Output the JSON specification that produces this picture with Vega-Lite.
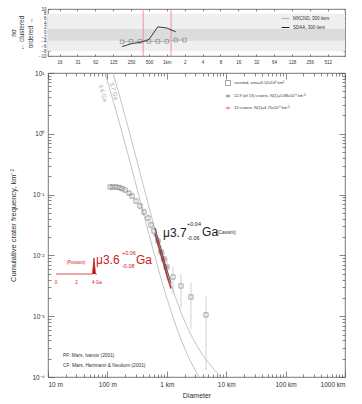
{
"$schema":"https://vega.github.io/schema/vega-lite/v6.json",
"background":"white",
"padding":{"left":9,"top":5,"right":4,"bottom":2},
"bounds":"flush",
"spacing":17,
"config":{
 "font":"Liberation Sans",
 "view":{"stroke":"#555","strokeWidth":0.8},
 "axis":{"labelFont":"Liberation Sans","titleFont":"Liberation Sans","labelFontSize":6.5,"titleFontSize":8,"titleFontWeight":"normal","domainColor":"#555","tickColor":"#555","labelColor":"#333","titleColor":"#333","tickWidth":0.7,"grid":false},
 "legend":{"labelFont":"Liberation Sans","labelColor":"#333"},
 "text":{"font":"Liberation Sans"}
},
"vconcat":[
{
 "width":297,"height":47,
 "resolve":{"axis":{"x":"independent","y":"independent"}},
 "layer":[
  {"data":{"values":[{"a":0.01,"b":1000,"lo":-8,"hi":8,"k":"outer"},{"a":0.01,"b":1000,"lo":-3.5,"hi":1.5,"k":"inner"}]},
   "mark":{"type":"rect"},
   "encoding":{
    "x":{"field":"a","type":"quantitative","scale":{"type":"log","domain":[0.01,1000]},
     "axis":{"orient":"bottom","values":[0.015625,0.03125,0.0625,0.125,0.25,0.5,1,2,4,8,16,32,64,128,256,512],"labelExpr":"['16','31','62','125','250','500','1km','2','4','8','16','32','64','128','256','512'][round(log(datum.value)/LN2)+6]","tickSize":-2,"labelPadding":5,"domain":false,"title":null,"labelFontSize":4.5}},
    "x2":{"field":"b"},
    "y":{"field":"lo","type":"quantitative","scale":{"domain":[-10,10]},
     "axis":{"orient":"left","values":[-10,-8,-6,-4,-2,0,2,4,6,8,10],"tickSize":-2,"labelPadding":4,"domain":false,"title":["nσ","← clustered","ordered →"],"titleFontSize":6.5,"labelFontSize":4.5,"titlePadding":5}},
    "y2":{"field":"hi"},
    "fill":{"field":"k","type":"nominal","scale":{"domain":["outer","inner"],"range":["#efefef","#dcdcdc"]},"legend":null}
   }},
  {"data":{"values":[{"D":0.4},{"D":1.18}]},
   "mark":{"type":"rule","color":"#f07a8c","strokeWidth":0.8},
   "encoding":{"x":{"field":"D","type":"quantitative","scale":{"type":"log","domain":[0.01,1000]},
     "axis":{"orient":"top","values":[0.015625,0.03125,0.0625,0.125,0.25,0.5,1,2,4,8,16,32,64,128,256,512],"labels":false,"tickSize":-2,"domain":false,"title":null}}}},
  {"data":{"values":[
    {"D":0.177,"v":-4.0,"s":"MXCND, 300 iters"},{"D":0.25,"v":-3.8,"s":"MXCND, 300 iters"},{"D":0.354,"v":-3.8,"s":"MXCND, 300 iters"},{"D":0.5,"v":-3.8,"s":"MXCND, 300 iters"},{"D":0.707,"v":-3.8,"s":"MXCND, 300 iters"},{"D":1.0,"v":-3.8,"s":"MXCND, 300 iters"},{"D":1.414,"v":-3.2,"s":"MXCND, 300 iters"},{"D":2.0,"v":-3.2,"s":"MXCND, 300 iters"},
    {"D":0.177,"v":-6.0,"s":"SDAA, 300 iters"},{"D":0.25,"v":-4.8,"s":"SDAA, 300 iters"},{"D":0.354,"v":-4.2,"s":"SDAA, 300 iters"},{"D":0.5,"v":-3.0,"s":"SDAA, 300 iters"},{"D":0.707,"v":2.4,"s":"SDAA, 300 iters"},{"D":1.0,"v":1.9,"s":"SDAA, 300 iters"},{"D":1.414,"v":0.3,"s":"SDAA, 300 iters"}]},
   "mark":{"type":"line","strokeWidth":0.9},
   "encoding":{
    "x":{"field":"D","type":"quantitative","scale":{"type":"log","domain":[0.01,1000]},"axis":null},
    "y":{"field":"v","type":"quantitative","scale":{"domain":[-10,10]},
     "axis":{"orient":"right","values":[-10,-8,-6,-4,-2,0,2,4,6,8,10],"labels":false,"tickSize":-2,"domain":false,"title":null}},
    "stroke":{"field":"s","type":"nominal","scale":{"domain":["MXCND, 300 iters","SDAA, 300 iters"],"range":["#b0b0b0","#222222"]},
     "legend":{"orient":"none","legendX":233,"legendY":5,"title":null,"symbolType":"stroke","labelFontSize":4.5,"symbolSize":60,"rowPadding":2,"labelOffset":3,"symbolStrokeWidth":1}}
   }},
  {"data":{"values":[{"D":0.177,"v":-4.0},{"D":0.25,"v":-3.8},{"D":0.354,"v":-3.8},{"D":0.5,"v":-3.8},{"D":0.707,"v":-3.8},{"D":1.0,"v":-3.8},{"D":1.414,"v":-3.2},{"D":2.0,"v":-3.2}]},
   "mark":{"type":"point","shape":"square","filled":false,"stroke":"#666","strokeWidth":0.7,"size":14},
   "encoding":{
    "x":{"field":"D","type":"quantitative","scale":{"type":"log","domain":[0.01,1000]},"axis":null},
    "y":{"field":"v","type":"quantitative","scale":{"domain":[-10,10]},"axis":null}}}
 ]
},
{
 "width":297,"height":304,
 "resolve":{"axis":{"x":"independent","y":"independent"}},
 "layer":[
  {"data":{"values":[
    {"g":"a","D":0.0631,"N":32.5},{"g":"a","D":0.0794,"N":15.6},{"g":"a","D":0.1,"N":7.36},{"g":"a","D":0.1259,"N":3.40},{"g":"a","D":0.1585,"N":1.54},{"g":"a","D":0.1995,"N":0.678},{"g":"a","D":0.2512,"N":0.294},{"g":"a","D":0.3162,"N":0.124},{"g":"a","D":0.3981,"N":0.0526},{"g":"a","D":0.5012,"N":0.0221},{"g":"a","D":0.631,"N":0.00961},{"g":"a","D":0.7943,"N":0.00428},{"g":"a","D":1.0,"N":0.001995},{"g":"a","D":1.259,"N":0.000986},{"g":"a","D":1.585,"N":0.00052},{"g":"a","D":1.995,"N":0.000296},{"g":"a","D":2.512,"N":0.000181},{"g":"a","D":3.162,"N":0.000119},{"g":"a","D":3.981,"N":0.0000832},{"g":"a","D":5.012,"N":0.0000615},
    {"g":"b","D":0.0631,"N":91.7},{"g":"b","D":0.0794,"N":44.1},{"g":"b","D":0.1,"N":20.7},{"g":"b","D":0.1259,"N":9.59},{"g":"b","D":0.1585,"N":4.34},{"g":"b","D":0.1995,"N":1.91},{"g":"b","D":0.2512,"N":0.828},{"g":"b","D":0.3162,"N":0.349},{"g":"b","D":0.3981,"N":0.148},{"g":"b","D":0.5012,"N":0.0624},{"g":"b","D":0.631,"N":0.0271},{"g":"b","D":0.7943,"N":0.01208},{"g":"b","D":1.0,"N":0.005623},{"g":"b","D":1.259,"N":0.00278},{"g":"b","D":1.585,"N":0.001466},{"g":"b","D":1.995,"N":0.000834},{"g":"b","D":2.512,"N":0.000509},{"g":"b","D":3.162,"N":0.000336},{"g":"b","D":3.981,"N":0.000234},{"g":"b","D":5.012,"N":0.000173},{"g":"b","D":6.31,"N":0.000132},{"g":"b","D":7.943,"N":0.000102},{"g":"b","D":10,"N":0.0000805}]},
   "mark":{"type":"line","clip":true,"stroke":"#b5b5b5","strokeWidth":0.8,"interpolate":"monotone"},
   "encoding":{
    "x":{"field":"D","type":"quantitative","scale":{"type":"log","domain":[0.01,1000]},
     "axis":{"orient":"bottom","values":[0.01,0.02,0.03,0.04,0.05,0.06,0.07,0.08,0.09,0.1,0.2,0.3,0.4,0.5,0.6,0.7,0.8,0.9,1,2,3,4,5,6,7,8,9,10,20,30,40,50,60,70,80,90,100,200,300,400,500,600,700,800,900,1000],
      "labelExpr":"datum.value==0.01?'10 m':datum.value==0.1?'100 m':datum.value==1?'1 km':datum.value==10?'10 km':datum.value==100?'100 km':datum.value==1000?'1000 km':''",
      "tickSize":{"condition":{"test":"indexof([0.01,0.1,1,10,100,1000], datum.value) >= 0","value":-6},"value":-3},
      "labelPadding":10,"domain":false,"title":"Diameter","titleFontSize":7,"titlePadding":4}},
    "y":{"field":"N","type":"quantitative","scale":{"type":"log","domain":[0.0001,10]},
     "axis":{"orient":"left","values":[0.0001,0.0002,0.0003,0.0004,0.0005,0.0006,0.0007,0.0008,0.0009,0.001,0.002,0.003,0.004,0.005,0.006,0.007,0.008,0.009,0.01,0.02,0.03,0.04,0.05,0.06,0.07,0.08,0.09,0.1,0.2,0.3,0.4,0.5,0.6,0.7,0.8,0.9,1,2,3,4,5,6,7,8,9,10],
      "labelExpr":"datum.value==10?'10¹':datum.value==1?'10⁰':datum.value==0.1?'10⁻¹':datum.value==0.01?'10⁻²':datum.value==0.001?'10⁻³':datum.value==0.0001?'10⁻⁴':''",
      "tickSize":{"condition":{"test":"indexof([0.0001,0.001,0.01,0.1,1,10], datum.value) >= 0","value":-6},"value":-3},
      "labelPadding":10,"domain":false,"title":"Cumulative crater frequency, km⁻²","titleFontSize":7.5,"titlePadding":14}},
    "detail":{"field":"g","type":"nominal"}
   }},
  {"data":{"values":[
    {"D":0.111,"lo":0.1216,"hi":0.1452},{"D":0.124,"lo":0.1216,"hi":0.1452},{"D":0.14,"lo":0.1216,"hi":0.1452},{"D":0.157,"lo":0.1193,"hi":0.1427},{"D":0.176,"lo":0.1145,"hi":0.1375},{"D":0.198,"lo":0.1078,"hi":0.1302},{"D":0.231,"lo":0.0954,"hi":0.1166},{"D":0.26,"lo":0.0848,"hi":0.1048},{"D":0.303,"lo":0.0694,"hi":0.0876},{"D":0.354,"lo":0.0566,"hi":0.0732},{"D":0.413,"lo":0.0443,"hi":0.0591},{"D":0.483,"lo":0.0346,"hi":0.0478},{"D":0.542,"lo":0.0258,"hi":0.0374},{"D":0.609,"lo":0.0201,"hi":0.0303},{"D":0.711,"lo":0.01306,"hi":0.02146},{"D":0.798,"lo":0.00788,"hi":0.01488},{"D":0.897,"lo":0.00573,"hi":0.01173},{"D":1.007,"lo":0.00384,"hi":0.00904},{"D":1.27,"lo":0.00231,"hi":0.00651},{"D":1.733,"lo":0.00134,"hi":0.00494},{"D":2.55,"lo":0.000615,"hi":0.00359},{"D":4.57,"lo":0.00013,"hi":0.0021}]},
   "mark":{"type":"rule","stroke":"#bdbdbd","strokeWidth":0.7},
   "encoding":{
    "x":{"field":"D","type":"quantitative","scale":{"type":"log","domain":[0.01,1000]},
     "axis":{"orient":"top","values":[0.01,0.02,0.03,0.04,0.05,0.06,0.07,0.08,0.09,0.1,0.2,0.3,0.4,0.5,0.6,0.7,0.8,0.9,1,2,3,4,5,6,7,8,9,10,20,30,40,50,60,70,80,90,100,200,300,400,500,600,700,800,900,1000],"labels":false,"domain":false,"title":null,
      "tickSize":{"condition":{"test":"indexof([0.01,0.1,1,10,100,1000], datum.value) >= 0","value":-6},"value":-3}}},
    "y":{"field":"lo","type":"quantitative","scale":{"type":"log","domain":[0.0001,10]},
     "axis":{"orient":"right","values":[0.0001,0.0002,0.0003,0.0004,0.0005,0.0006,0.0007,0.0008,0.0009,0.001,0.002,0.003,0.004,0.005,0.006,0.007,0.008,0.009,0.01,0.02,0.03,0.04,0.05,0.06,0.07,0.08,0.09,0.1,0.2,0.3,0.4,0.5,0.6,0.7,0.8,0.9,1,2,3,4,5,6,7,8,9,10],"labels":false,"domain":false,"title":null,
      "tickSize":{"condition":{"test":"indexof([0.0001,0.001,0.01,0.1,1,10], datum.value) >= 0","value":-6},"value":-3}}},
    "y2":{"field":"hi"}
   }},
  {"data":{"values":[
    {"D":0.6310,"N":0.02832},{"D":0.7943,"N":0.0131},{"D":1.0,"N":0.00588},{"D":1.18,"N":0.00353}]},
   "mark":{"type":"line","stroke":"#333333","strokeWidth":0.8,"interpolate":"monotone"},
   "encoding":{
    "x":{"field":"D","type":"quantitative","scale":{"type":"log","domain":[0.01,1000]},"axis":null},
    "y":{"field":"N","type":"quantitative","scale":{"type":"log","domain":[0.0001,10]},"axis":null}}},
  {"data":{"values":[
    {"D":0.6310,"N":0.02288},{"D":0.7943,"N":0.01058},{"D":1.0,"N":0.00475},{"D":1.18,"N":0.00285}]},
   "mark":{"type":"line","stroke":"#a81818","strokeWidth":1.6,"opacity":0.85,"interpolate":"monotone"},
   "encoding":{
    "x":{"field":"D","type":"quantitative","scale":{"type":"log","domain":[0.01,1000]},"axis":null},
    "y":{"field":"N","type":"quantitative","scale":{"type":"log","domain":[0.0001,10]},"axis":null}}},
  {"data":{"values":[
    {"s":"counted, area=9.52x10² km²","D":0.111,"N":0.1334},{"s":"counted, area=9.52x10² km²","D":0.124,"N":0.1334},{"s":"counted, area=9.52x10² km²","D":0.14,"N":0.1334},{"s":"counted, area=9.52x10² km²","D":0.157,"N":0.131},{"s":"counted, area=9.52x10² km²","D":0.176,"N":0.126},{"s":"counted, area=9.52x10² km²","D":0.198,"N":0.119},{"s":"counted, area=9.52x10² km²","D":0.231,"N":0.106},{"s":"counted, area=9.52x10² km²","D":0.26,"N":0.0948},{"s":"counted, area=9.52x10² km²","D":0.303,"N":0.0785},{"s":"counted, area=9.52x10² km²","D":0.354,"N":0.0649},{"s":"counted, area=9.52x10² km²","D":0.413,"N":0.0517},{"s":"counted, area=9.52x10² km²","D":0.483,"N":0.0412},{"s":"counted, area=9.52x10² km²","D":0.542,"N":0.0316},{"s":"counted, area=9.52x10² km²","D":0.609,"N":0.0252},{"s":"counted, area=9.52x10² km²","D":0.711,"N":0.01726},{"s":"counted, area=9.52x10² km²","D":0.798,"N":0.01138},{"s":"counted, area=9.52x10² km²","D":0.897,"N":0.00873},{"s":"counted, area=9.52x10² km²","D":1.007,"N":0.00644},{"s":"counted, area=9.52x10² km²","D":1.27,"N":0.00441},{"s":"counted, area=9.52x10² km²","D":1.733,"N":0.00314},{"s":"counted, area=9.52x10² km²","D":2.55,"N":0.00207},{"s":"counted, area=9.52x10² km²","D":4.57,"N":0.00105},
    {"s":"13 craters, N(1)=4.75x10⁻³ km⁻²","D":0.711,"N":0.01726},{"s":"13 craters, N(1)=4.75x10⁻³ km⁻²","D":0.798,"N":0.01138},{"s":"13 craters, N(1)=4.75x10⁻³ km⁻²","D":0.897,"N":0.00873},{"s":"13 craters, N(1)=4.75x10⁻³ km⁻²","D":1.007,"N":0.00644}]},
   "mark":{"type":"point","filled":false,"strokeWidth":0.7,"size":18},
   "encoding":{
    "x":{"field":"D","type":"quantitative","scale":{"type":"log","domain":[0.01,1000]},"axis":null},
    "y":{"field":"N","type":"quantitative","scale":{"type":"log","domain":[0.0001,10]},"axis":null},
    "shape":{"field":"s","type":"nominal","scale":{"domain":["counted, area=9.52x10² km²","12.9 (of 13) craters, N(1)=5.88x10⁻³ km⁻²","13 craters, N(1)=4.75x10⁻³ km⁻²"],"range":["square","M-1,0H1M0,-0.6V0.6","M-1,0H1M0,-0.6V0.6"]},"legend":null},
    "color":{"field":"s","type":"nominal","scale":{"domain":["counted, area=9.52x10² km²","12.9 (of 13) craters, N(1)=5.88x10⁻³ km⁻²","13 craters, N(1)=4.75x10⁻³ km⁻²"],"range":["#555555","#222222","#cc2020"]},
     "legend":{"orient":"none","legendX":177,"legendY":71,"title":null,"labelFontSize":4,"symbolSize":25,"rowPadding":4,"labelOffset":3,"symbolStrokeWidth":0.8}}
   }},
  {"data":{"values":[{"D":0.0843,"N":4.69,"t":"3.6 Ga"},{"D":0.129,"N":5.06,"t":"3.7 Ga"}]},
   "mark":{"type":"text","angle":73.5,"fontSize":6,"color":"#aaaaaa"},
   "encoding":{"x":{"field":"D","type":"quantitative","scale":{"type":"log","domain":[0.01,1000]},"axis":null},"y":{"field":"N","type":"quantitative","scale":{"type":"log","domain":[0.0001,10]},"axis":null},"text":{"field":"t"}}},
  {"data":{"values":[{"D":0.863,"N":0.02333,"t":"μ3.7"},{"D":3.92,"N":0.02427,"t":"Ga"}]},
   "mark":{"type":"text","align":"left","baseline":"middle","fontSize":12,"color":"#222222"},
   "encoding":{"x":{"field":"D","type":"quantitative","scale":{"type":"log","domain":[0.01,1000]},"axis":null},"y":{"field":"N","type":"quantitative","scale":{"type":"log","domain":[0.0001,10]},"axis":null},"text":{"field":"t"}}},
  {"data":{"values":[{"D":2.19,"N":0.0328,"t":"+0.04"},{"D":2.19,"N":0.0193,"t":"-0.06"}]},
   "mark":{"type":"text","align":"left","baseline":"middle","fontSize":5.5,"color":"#222222"},
   "encoding":{"x":{"field":"D","type":"quantitative","scale":{"type":"log","domain":[0.01,1000]},"axis":null},"y":{"field":"N","type":"quantitative","scale":{"type":"log","domain":[0.0001,10]},"axis":null},"text":{"field":"t"}}},
  {"data":{"values":[{"D":7.0,"N":0.02333,"t":"(Cassini)"},{"D":0.0179,"N":0.000221,"t":"PF: Mars, Ivanov (2001)"},{"D":0.0179,"N":0.000151,"t":"CF: Mars, Hartmann & Neukum (2001)"}]},
   "mark":{"type":"text","align":"left","baseline":"middle","fontSize":4.8,"color":"#333333"},
   "encoding":{"x":{"field":"D","type":"quantitative","scale":{"type":"log","domain":[0.01,1000]},"axis":null},"y":{"field":"N","type":"quantitative","scale":{"type":"log","domain":[0.0001,10]},"axis":null},"text":{"field":"t"}}},
  {"data":{"values":[{"D":0.0643,"N":0.00839,"t":"μ3.6"},{"D":0.303,"N":0.00839,"t":"Ga"}]},
   "mark":{"type":"text","align":"left","baseline":"middle","fontSize":12,"color":"#cc2020"},
   "encoding":{"x":{"field":"D","type":"quantitative","scale":{"type":"log","domain":[0.01,1000]},"axis":null},"y":{"field":"N","type":"quantitative","scale":{"type":"log","domain":[0.0001,10]},"axis":null},"text":{"field":"t"}}},
  {"data":{"values":[{"D":0.176,"N":0.01094,"t":"+0.06"},{"D":0.176,"N":0.0067,"t":"-0.08"}]},
   "mark":{"type":"text","align":"left","baseline":"middle","fontSize":5.5,"color":"#cc2020"},
   "encoding":{"x":{"field":"D","type":"quantitative","scale":{"type":"log","domain":[0.01,1000]},"axis":null},"y":{"field":"N","type":"quantitative","scale":{"type":"log","domain":[0.0001,10]},"axis":null},"text":{"field":"t"}}},
  {"data":{"values":[{"D":0.0296,"N":0.0075,"t":"(Poisson)"},{"D":0.01364,"N":0.00352,"t":"0"},{"D":0.0302,"N":0.00352,"t":"2"},{"D":0.0668,"N":0.00352,"t":"4 Ga"}]},
   "mark":{"type":"text","align":"center","baseline":"middle","fontSize":4.5,"color":"#cc2020"},
   "encoding":{"x":{"field":"D","type":"quantitative","scale":{"type":"log","domain":[0.01,1000]},"axis":null},"y":{"field":"N","type":"quantitative","scale":{"type":"log","domain":[0.0001,10]},"axis":null},"text":{"field":"t"}}},
  {"data":{"values":[{"D":0.0561,"N":0.00494,"b":0.00494},{"D":0.0595,"N":0.00906,"b":0.00494},{"D":0.0630,"N":0.00494,"b":0.00494}]},
   "mark":{"type":"area","color":"#b01818"},
   "encoding":{"x":{"field":"D","type":"quantitative","scale":{"type":"log","domain":[0.01,1000]},"axis":null},"y":{"field":"N","type":"quantitative","scale":{"type":"log","domain":[0.0001,10]},"axis":null},"y2":{"field":"b"}}},
  {"data":{"values":[{"D":0.01364,"N":0.00494},{"D":0.0561,"N":0.00494},{"D":0.0595,"N":0.00906},{"D":0.0630,"N":0.00494},{"D":0.0668,"N":0.00494}]},
   "mark":{"type":"line","stroke":"#cc2020","strokeWidth":0.8},
   "encoding":{"x":{"field":"D","type":"quantitative","scale":{"type":"log","domain":[0.01,1000]},"axis":null},"y":{"field":"N","type":"quantitative","scale":{"type":"log","domain":[0.0001,10]},"axis":null}}}
 ]
}
]
}
